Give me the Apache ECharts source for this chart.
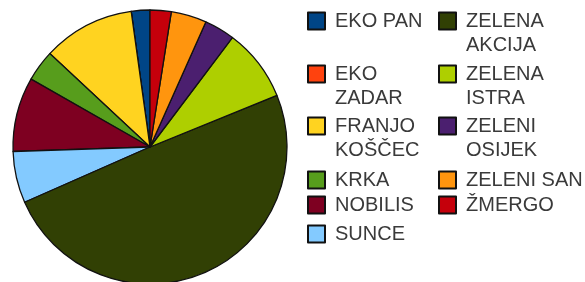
<!DOCTYPE html>
<html>
<head>
<meta charset="utf-8">
<script src="https://cdn.jsdelivr.net/npm/echarts@6/dist/echarts.min.js"></script>
<style>html,body{margin:0;padding:0;background:#fff}#c{width:585px;height:282px}</style>
</head>
<body>
<div id="c"></div>
<script>
// Categories (legend order) and their shares (%)
const categories = ['EKO PAN', 'EKO ZADAR', 'FRANJO KOŠČEC', 'KRKA', 'NOBILIS', 'SUNCE',
  'ZELENA AKCIJA', 'ZELENA ISTRA', 'ZELENI OSIJEK', 'ZELENI SAN', 'ŽMERGO'];
const values = [2.2, 0, 10.9, 3.7, 8.8, 6.1, 49.7, 8.6, 3.6, 4.2, 2.5];
const legendLabels = ['EKO PAN', 'EKO\nZADAR', 'FRANJO\nKOŠČEC', 'KRKA', 'NOBILIS', 'SUNCE',
  'ZELENA\nAKCIJA', 'ZELENA\nISTRA', 'ZELENI\nOSIJEK', 'ZELENI SAN', 'ŽMERGO'];
const colors = ['#004586', '#ff420e', '#ffd320', '#579d1c', '#7e0021', '#83caff',
  '#314004', '#aecf00', '#4b1f6f', '#ff950e', '#c5000b'];

// legend layout (style only)
const colLeft = [307, 438];
const rowTop = [9, 62, 114, 168, 193, 222];
const LINE_H = 24;

const legends = categories.map(function (name, i) {
  const col = i < 6 ? 0 : 1;
  const row = i < 6 ? i : i - 6;
  const twoLine = legendLabels[i].indexOf('\n') >= 0;
  return {
    data: [name],
    orient: 'vertical',
    left: colLeft[col],
    top: rowTop[row] - (twoLine ? LINE_H : 0),
    padding: 0,
    itemWidth: 17,
    itemHeight: 17,
    icon: 'rect',
    selectedMode: false,
    formatter: function () { return (twoLine ? '\n' : '') + legendLabels[i]; },
    textStyle: {
      fontFamily: 'Liberation Sans, Arial, sans-serif',
      fontSize: 20,
      color: '#3a3a3a',
      lineHeight: LINE_H,
      padding: [0, 0, 0, 5]
    }
  };
});

const chart = echarts.init(document.getElementById('c'), null, {renderer: 'canvas'});
chart.setOption({
  backgroundColor: '#ffffff',
  animation: false,
  color: colors,
  legend: legends,
  series: [{
    type: 'pie',
    center: [150, 147],
    radius: 137,
    startAngle: 90,
    clockwise: false,
    label: {show: false},
    labelLine: {show: false},
    emphasis: {disabled: true},
    itemStyle: {borderColor: '#111', borderWidth: 1.3},
    data: categories.map(function (n, i) { return {name: n, value: values[i]}; })
  }]
});
</script>
</body>
</html>
